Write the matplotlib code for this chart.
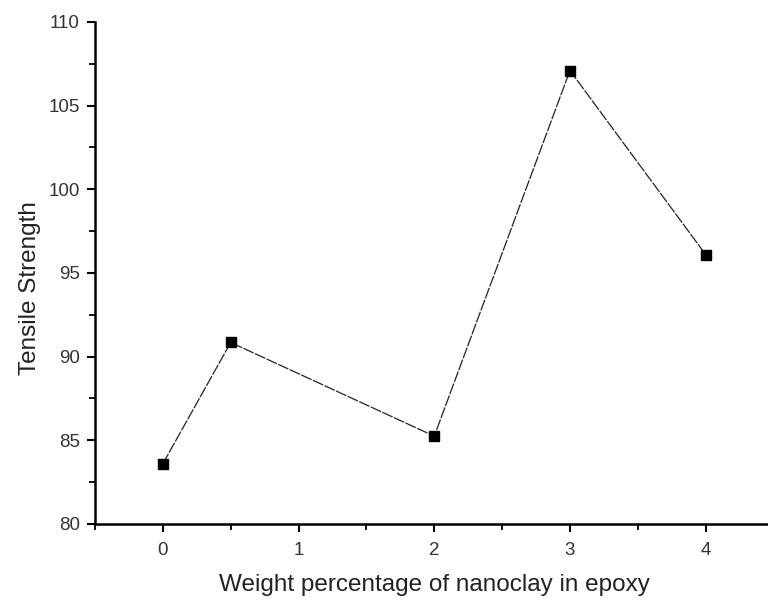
import matplotlib
matplotlib.use('Agg')
import matplotlib.pyplot as plt
from matplotlib.ticker import MultipleLocator

# nanoclay loading (wt%) vs. tensile strength
nanoclay_wt = [0, 0.5, 2, 3, 4]
tensile_strength = [83.6, 90.85, 85.25, 107.1, 96.1]

plt.rcParams['font.family'] = ['Liberation Sans', 'DejaVu Sans']

fig = plt.figure(figsize=(7.68, 6.0), dpi=100)
ax = fig.add_axes([95/768, 76/600, 678.5/768, 502/600])

ax.plot(nanoclay_wt, tensile_strength, color='#222222', lw=0.9,
        dashes=(9, 1.2), marker='s', ms=7.8, mfc='black', mec='black')

ax.set_xlim(-0.5, 4.5)
ax.set_ylim(80, 110)
ax.xaxis.set_major_locator(MultipleLocator(1))
ax.xaxis.set_minor_locator(MultipleLocator(0.5))
ax.yaxis.set_major_locator(MultipleLocator(5))
ax.yaxis.set_minor_locator(MultipleLocator(2.5))

for s in ['top', 'right']:
    ax.spines[s].set_visible(False)
for s in ['left', 'bottom']:
    ax.spines[s].set_linewidth(1.8)

ax.tick_params(which='major', direction='out', length=6, width=1.5,
               labelsize=13.5, labelcolor='#333333')
ax.tick_params(axis='x', which='major', pad=7)
ax.tick_params(axis='y', which='major', pad=5)
ax.tick_params(which='minor', direction='out', length=4.5, width=1.3)

ax.set_xlabel('Weight percentage of nanoclay in epoxy', fontsize=17.5,
              color='#222222', labelpad=11)
ax.set_ylabel('Tensile Strength', fontsize=17.5, color='#222222')
ax.yaxis.set_label_coords(-0.08, 0.47)

fig.savefig('out.png', dpi=100)
